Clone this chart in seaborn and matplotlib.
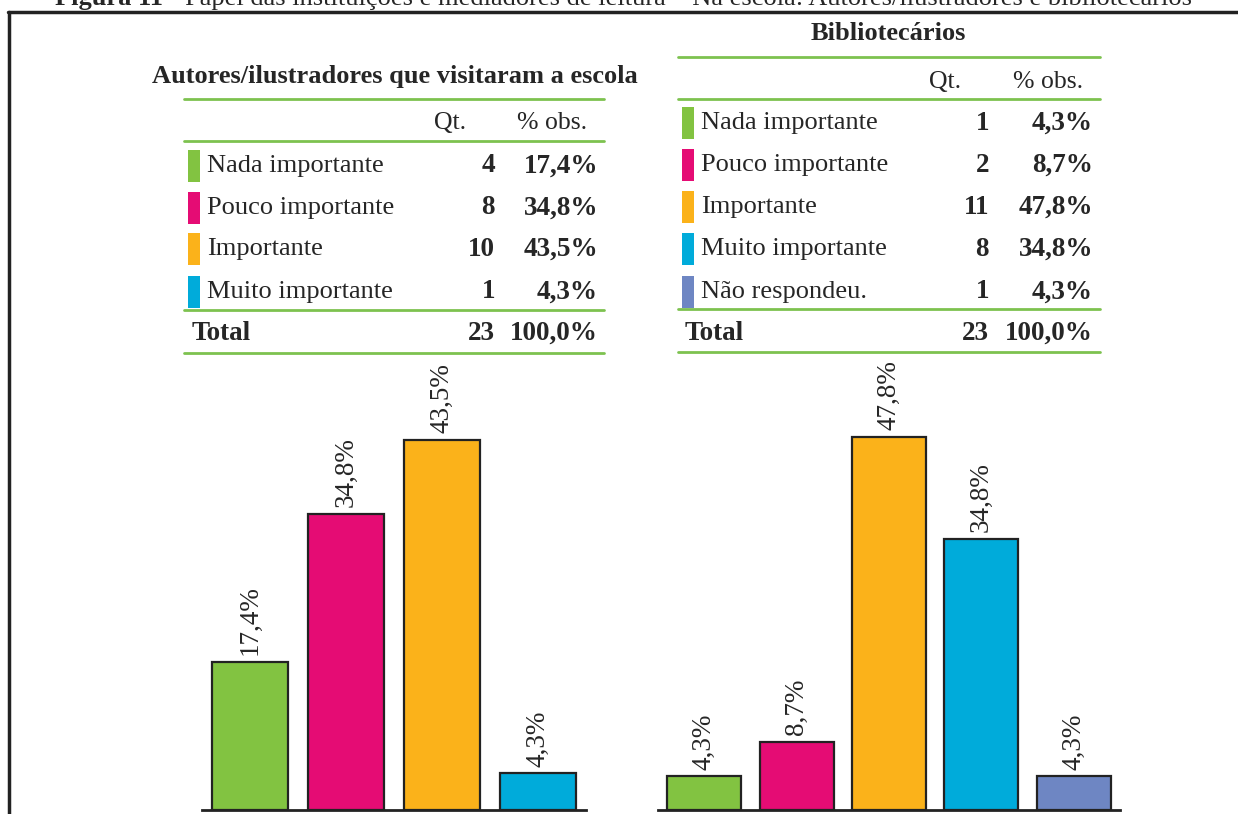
import matplotlib
matplotlib.use("Agg")
import matplotlib.pyplot as plt
import seaborn as sns
from matplotlib.lines import Line2D
from matplotlib.patches import Rectangle

# data
autores_cat = ["Nada importante", "Pouco importante", "Importante", "Muito importante"]
autores_qt = [4, 8, 10, 1]
autores_pct = [17.4, 34.8, 43.5, 4.3]
autores_colors = ["#82C341", "#E50C74", "#FBB21A", "#00ABDA"]

biblio_cat = ["Nada importante", "Pouco importante", "Importante",
              "Muito importante", "Não respondeu."]
biblio_qt = [1, 2, 11, 8, 1]
biblio_pct = [4.3, 8.7, 47.8, 34.8, 4.3]
biblio_colors = ["#82C341", "#E50C74", "#FBB21A", "#00ABDA", "#6E86C3"]

total_qt = 23
total_pct = 100.0

caption_bold = "Figura 11"
caption_rest = " - Papel das instituições e mediadores de leitura – Na escola: Autores/ilustradores e bibliotecários"

W, H = 1238, 814
sns.set_theme(style="white")
plt.rcParams["font.family"] = ["Liberation Serif", "DejaVu Serif"]

fig = plt.figure(figsize=(W / 100, H / 100), dpi=100)
fig.patch.set_facecolor("white")


def fx(px):
    return px / W


def fy(py):
    return 1 - py / H


def fmt(v):
    return f"{v:.1f}".replace(".", ",") + "%"


GREEN_LINE = "#7DC24F"
FS_LABEL = 19
FS_NUM = 19.5
FS_HEAD = 18.5
FS_TITLE = 19

# frame and cut caption
fig.add_artist(Line2D([fx(8), 1], [fy(12), fy(12)], color="#222", lw=2.5))
fig.add_artist(Line2D([fx(9), fx(9)], [fy(12), 0], color="#222", lw=2.5))
t1 = fig.text(fx(55), fy(5), caption_bold, fontsize=19, fontweight="bold",
              va="baseline", ha="left")
fig.canvas.draw()
bb = t1.get_window_extent()
fig.text(bb.x1 / W, fy(5), caption_rest, fontsize=19, va="baseline", ha="left")


def draw_table(title, tx, ty, cats, qts, pcts, colors, x0, x1, lines_y,
               head_y, rows_y, tot_y, qt_hx, pct_hx, sw_x, lab_x, qt_x, pct_x, tot_x):
    fig.text(fx(tx), fy(ty), title, fontsize=FS_TITLE, fontweight="bold",
             ha="center", va="center")
    for ly in lines_y:
        fig.add_artist(Line2D([fx(x0), fx(x1)], [fy(ly), fy(ly)],
                              color=GREEN_LINE, lw=2))
    fig.text(fx(qt_hx), fy(head_y), "Qt.", fontsize=FS_HEAD, ha="center", va="center")
    fig.text(fx(pct_hx), fy(head_y), "% obs.", fontsize=FS_HEAD, ha="center", va="center")
    for cat, q, p, c, ry in zip(cats, qts, pcts, colors, rows_y):
        fig.add_artist(Rectangle((fx(sw_x), fy(ry + 16)), 12 / W, 32 / H,
                                 facecolor=c, edgecolor="none"))
        fig.text(fx(lab_x), fy(ry), cat, fontsize=FS_LABEL, ha="left", va="center")
        fig.text(fx(qt_x), fy(ry), str(q), fontsize=FS_NUM, fontweight="bold",
                 ha="right", va="center")
        fig.text(fx(pct_x), fy(ry), fmt(p), fontsize=FS_NUM, fontweight="bold",
                 ha="right", va="center")
    fig.text(fx(tot_x), fy(tot_y), "Total", fontsize=FS_NUM, fontweight="bold",
             ha="left", va="center")
    fig.text(fx(qt_x), fy(tot_y), str(total_qt), fontsize=FS_NUM, fontweight="bold",
             ha="right", va="center")
    fig.text(fx(pct_x), fy(tot_y), fmt(total_pct), fontsize=FS_NUM, fontweight="bold",
             ha="right", va="center")


draw_table("Autores/ilustradores que visitaram a escola", 395, 76,
           autores_cat, autores_qt, autores_pct, autores_colors,
           184, 604, [99, 141, 310, 353], 123, [166, 208, 249, 292], 333,
           450, 552, 188, 207, 495, 598, 192)

draw_table("Bibliotecários", 888, 33,
           biblio_cat, biblio_qt, biblio_pct, biblio_colors,
           678, 1100, [57, 99, 309, 352], 82, [123, 165, 207, 249, 292], 333,
           945, 1048, 682, 701, 989, 1093, 685)


def draw_bars(left, right, cats, pcts, colors, ymax):
    ax = fig.add_axes([fx(left), fy(810), (right - left) / W, 450 / H])
    sns.barplot(x=cats, y=pcts, hue=cats, palette=colors, legend=False,
                saturation=1, edgecolor="#222222", linewidth=1.6, width=0.8, ax=ax)
    ax.set_xlim(-0.5, len(cats) - 0.5)
    ax.set_ylim(0, ymax)
    for i, v in enumerate(pcts):
        ax.annotate(fmt(v), (i, v), xytext=(0, 5), textcoords="offset points",
                    rotation=90, ha="center", va="bottom", fontsize=19.5)
    for s in ["top", "left", "right"]:
        ax.spines[s].set_visible(False)
    ax.spines["bottom"].set_color("#222")
    ax.spines["bottom"].set_linewidth(2)
    ax.set_xticks([])
    ax.set_yticks([])
    ax.set_xlabel("")
    ax.set_ylabel("")
    ax.patch.set_alpha(0)
    return ax


draw_bars(202, 586, autores_cat, autores_pct, autores_colors, 450 / 8.5)
draw_bars(658, 1120, biblio_cat, biblio_pct, biblio_colors, 450 / 7.8)

fig.savefig("out.png", dpi=100, facecolor="white")
